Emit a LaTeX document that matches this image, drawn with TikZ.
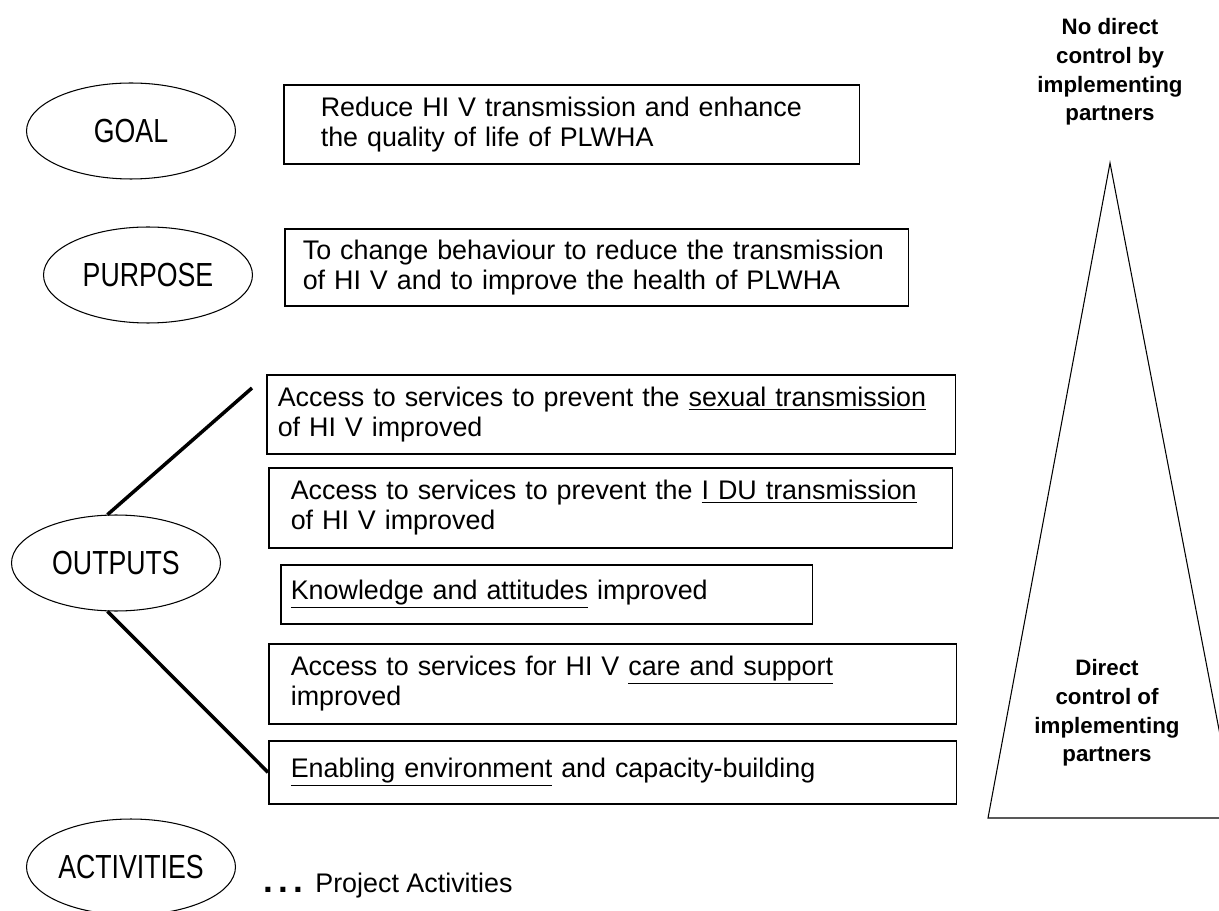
\documentclass[tikz,border=0pt]{standalone}
\usepackage{fontspec}
\setmainfont{Liberation Sans}
\newfontfamily\ovalfont[FakeStretch=0.8]{Liberation Sans}
\usepackage{tikz}
\usetikzlibrary{shapes.geometric}
\tikzstyle{level} =
[ellipse, minimum width = 4.18cm, minimum height = 1.92cm, inner sep = 0pt,
text centered, draw=black, line width = 0.6pt,
font = \ovalfont\fontsize{19}{22}\selectfont]
\tikzstyle{statement} =
[rectangle, anchor = north west, align = left, draw=black, line width = 0.9pt,
font = \fontsize{15.3}{17}\selectfont]
\tikzstyle{control} =
[align = center, font = \bfseries\fontsize{12.7}{16.4}\selectfont]
\tikzstyle{line} = [draw, line width = 2pt]

\begin{document}
\begin{tikzpicture}[x=0.02cm, y=-0.02cm]
  \useasboundingbox (0,0) rectangle (1219,911);
  \clip (0,0) rectangle (1219,911);
  % level nodes
  \node [level] (goal) at (131,131) {GOAL};
  \node [level] (purpose) at (148,275) {PURPOSE};
  \node [level] (outputs) at (116,563) {OUTPUTS};
  \node [level] (activities) at (131,867) {ACTIVITIES};
  %
  % statement nodes
  \node [statement, minimum height=1.58cm, inner xsep=0.74cm,
   text width=10.04cm] (goaltxt) at (283,84)
   {Reduce HI V transmission and enhance\\the quality of life of PLWHA};
  \node [statement, minimum height=1.54cm, inner xsep=0.36cm,
   text width=11.76cm] (purposetxt) at (284,228)
   {To change behaviour to reduce the transmission\\of HI V and to improve the health of PLWHA};
  \node [statement, minimum height=1.58cm, inner xsep=0.22cm,
   text width=13.34cm] (sexual) at (266,374)
   {Access to services to prevent the \underline{sexual transmission}\\of HI V improved};
  \node [statement, minimum height=1.6cm, inner xsep=0.44cm,
   text width=12.8cm] (idu) at (268,467)
   {Access to services to prevent the \underline{I DU transmission}\\of HI V improved};
  \node [statement, minimum height=1.18cm, inner xsep=0.2cm,
   text width=10.24cm] (knowledge) at (280,564)
   {\underline{Knowledge and attitudes} improved};
  \node [statement, minimum height=1.6cm, inner xsep=0.44cm,
   text width=12.88cm] (care) at (268,643)
   {Access to services for HI V \underline{care and support}\\improved};
  \node [statement, minimum height=1.26cm, inner xsep=0.44cm,
   text width=12.88cm] (enabl) at (268,740)
   {\underline{Enabling environment} and capacity-building};
  \node [anchor=base west, font=\fontsize{15.3}{17}\selectfont] (projact)
   at (257,892) {{\fontsize{20}{20}\selectfont\bfseries .\hspace{3pt}.\hspace{3pt}.}\hspace{7pt}Project Activities};
  %
  % edges
  \coordinate (upend) at (252,388);
  \path [line] (outputs.100) -- (upend);
  \path [line] (outputs.260) -- (enabl.west);
  %
  % control triangle
  \coordinate (apex) at (1110,163);
  \coordinate (baseL) at (988,818);
  \coordinate (baseR) at (1236,818);
  \draw [line width=0.6pt] (baseL) -- (apex) -- (baseR) -- cycle;
  \node [control] (nocontrol) at (1110,72)
   {No direct\\control by\\implementing\\partners};
  \node [control] (direct) at (1107,713)
   {Direct\\control of\\implementing\\partners};
\end{tikzpicture}
\end{document}
